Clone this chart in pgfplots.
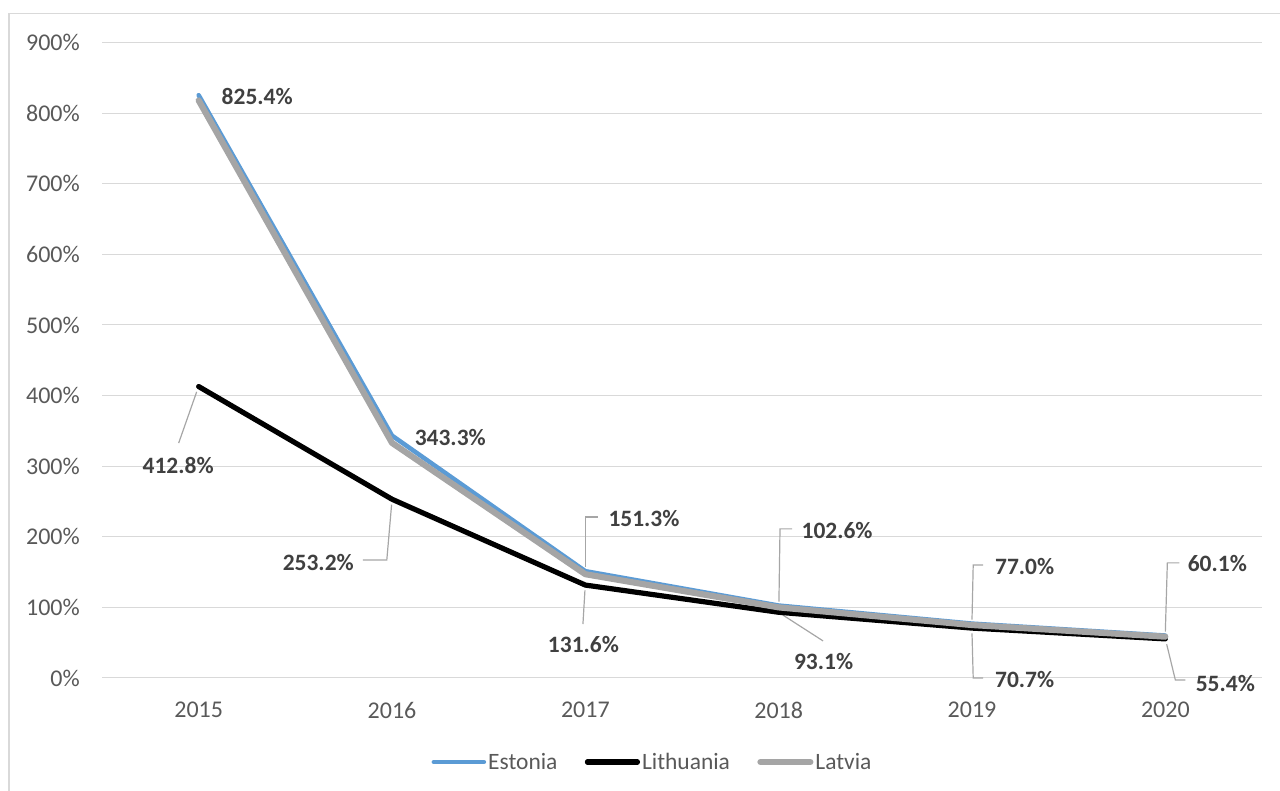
\documentclass[border=0pt]{standalone}
\usepackage{fontspec}
\setmainfont{Carlito}
\usepackage{pgfplots}
\pgfplotsset{compat=1.18}

\definecolor{estblue}{RGB}{91,155,213}
\definecolor{latgray}{RGB}{165,165,165}
\definecolor{ticktext}{RGB}{89,89,89}
\definecolor{labeltext}{RGB}{64,64,64}
\definecolor{gridc}{RGB}{217,217,217}
\definecolor{leaderc}{RGB}{166,166,166}

% year index, Estonia, Lithuania, Latvia (per cent)
\pgfplotstableread{
x  est    lit    lat
0  825.4  412.8  818
1  343.3  253.2  333
2  151.3  131.6  147
3  102.6  93.1   100
4  77.0   70.7   75
5  60.1   55.4   58.5
}\ratios

\begin{document}
\begin{tikzpicture}[
  lbl/.style={font=\bfseries\fontsize{17.6}{18}\selectfont, text=labeltext, inner sep=0pt, anchor=center},
  ldr/.style={draw=leaderc, line width=0.9pt}
]
\useasboundingbox (0,0) rectangle (960pt,593.25pt);
\draw[gridc, line width=1.2pt] (6.6pt,-2pt) -- (6.6pt,583pt) -- (962pt,583pt);
\begin{axis}[
  at={(76.5pt,84.75pt)}, anchor=south west,
  scale only axis, width=870pt, height=476.6pt,
  xmin=-0.5, xmax=5.5, ymin=0, ymax=900,
  xtick={0,...,5}, xticklabels={2015,2016,2017,2018,2019,2020},
  ytick={0,100,...,900},
  yticklabel={\pgfmathprintnumber[assume math mode=true]{\tick}\%},
  axis line style={draw=none},
  major tick length=0pt,
  ymajorgrids, grid style={gridc, line width=0.75pt},
  tick label style={font=\fontsize{18}{18}\selectfont, text=ticktext},
  yticklabel style={anchor=east, inner sep=0pt, xshift=-16.5pt},
  xticklabel style={anchor=north, inner sep=0pt, yshift=-17.8pt},
  clip=false,
  legend style={at={(0.4746,-0.1322)}, anchor=center, draw=none, fill=none,
    legend columns=3, font=\fontsize{17.6}{18}\selectfont, text=ticktext,
    nodes={inner sep=1.5pt},
    /tikz/every even column/.append style={column sep=19pt}},
  legend image code/.code={\draw[#1, line cap=round] (0pt,0pt) -- (37.5pt,0pt);},
]
% leader lines
\draw[ldr] (axis cs:0,412.8) ++(-1.5pt,-4pt) -- ++(-13.5pt,-38.4pt);
\draw[ldr] (axis cs:1,253.2) ++(-0.3pt,-4pt) -- ++(-3.6pt,-41.6pt) -- ++(-18pt,0pt);
\draw[ldr] (axis cs:2,151.3) ++(0pt,3pt) -- ++(0pt,37.7pt) -- ++(9.5pt,0pt);
\draw[ldr] (axis cs:2,131.6) ++(-0.3pt,-4pt) -- ++(-1.5pt,-25.2pt);
\draw[ldr] (axis cs:3,102.6) ++(0.2pt,3pt) -- ++(0.8pt,54.5pt) -- ++(9pt,0pt);
\draw[ldr] (axis cs:3,93.1) ++(3pt,-2pt) -- ++(30.3pt,-19.5pt);
\draw[ldr] (axis cs:4,77.0) ++(0pt,3pt) -- ++(0.9pt,41pt) -- ++(7.5pt,0pt);
\draw[ldr] (axis cs:4,70.7) ++(0pt,-4pt) -- ++(0.9pt,-33.4pt) -- ++(7.5pt,0pt);
\draw[ldr] (axis cs:5,60.1) ++(0pt,3pt) -- ++(1.5pt,51.5pt) -- ++(9pt,0pt);
\draw[ldr] (axis cs:5,55.4) ++(1pt,-4pt) -- ++(6.5pt,-26.8pt) -- ++(7.5pt,0pt);

\addplot[estblue, line width=3.4pt, line cap=round, line join=round] table[x=x, y=est] {\ratios};
\addlegendentry{Estonia}
\addplot[black, line width=3.9pt, line cap=round, line join=round] table[x=x, y=lit] {\ratios};
\addlegendentry{Lithuania}
\addplot[latgray, line width=4.6pt, line cap=round, line join=round] table[x=x, y=lat] {\ratios};
\addlegendentry{Latvia}

% value labels
\node[lbl] at ([xshift=43.9pt, yshift=-1.1pt]axis cs:0,825.4) {825.4\%};
\node[lbl] at ([xshift=43.7pt, yshift=-1.8pt]axis cs:1,343.3) {343.3\%};
\node[lbl] at ([xshift=44pt, yshift=39.7pt]axis cs:2,151.3) {151.3\%};
\node[lbl] at ([xshift=43.8pt, yshift=56.2pt]axis cs:3,102.6) {102.6\%};
\node[lbl] at ([xshift=39.5pt, yshift=42.5pt]axis cs:4,77.0) {77.0\%};
\node[lbl] at ([xshift=39pt, yshift=53.7pt]axis cs:5,60.1) {60.1\%};
\node[lbl] at ([xshift=-15.4pt, yshift=-58.9pt]axis cs:0,412.8) {412.8\%};
\node[lbl] at ([xshift=-55.3pt, yshift=-47.6pt]axis cs:1,253.2) {253.2\%};
\node[lbl] at ([xshift=-1.4pt, yshift=-44.9pt]axis cs:2,131.6) {131.6\%};
\node[lbl] at ([xshift=33.7pt, yshift=-37.1pt]axis cs:3,93.1) {93.1\%};
\node[lbl] at ([xshift=39.5pt, yshift=-38.9pt]axis cs:4,70.7) {70.7\%};
\node[lbl] at ([xshift=45pt, yshift=-33.8pt]axis cs:5,55.4) {55.4\%};
\end{axis}
\end{tikzpicture}
\end{document}
